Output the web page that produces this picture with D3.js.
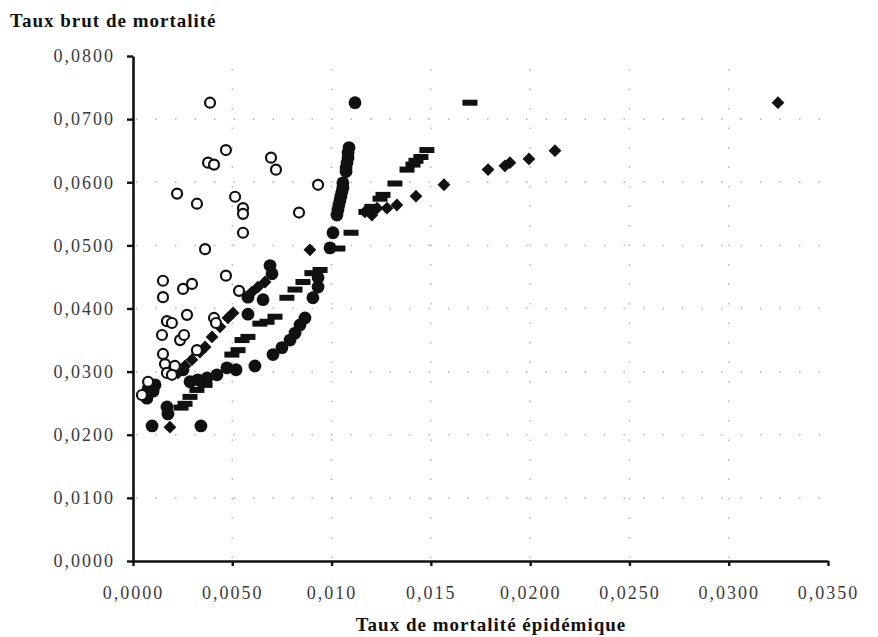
<!DOCTYPE html>
<html>
<head>
<meta charset="utf-8">
<script src="https://cdn.jsdelivr.net/npm/d3@7"></script>
<style>
  body { margin: 0; background: #fff; }
  text { font-family: "Liberation Serif", "Times New Roman", serif; }
</style>
</head>
<body>
<svg id="chart" width="878" height="637"></svg>
<script>
// tick values and their printed labels
var xTicks = [0, 0.005, 0.010, 0.015, 0.020, 0.025, 0.030, 0.035];
var xTickLabels = ['0,0000', '0,0050', '0,010', '0,015', '0,0200', '0,0250', '0,0300', '0,0350'];
var yTicks = [0, 0.01, 0.02, 0.03, 0.04, 0.05, 0.06, 0.07, 0.08];
var yTickLabels = ['0,0000', '0,0100', '0,0200', '0,0300', '0,0400', '0,0500', '0,0600', '0,0700', '0,0800'];

// series: [taux de mortalité épidémique, taux brut de mortalité]
var openCircles = [
  [0.00388, 0.0726], [0.00468, 0.0651], [0.00378, 0.0631], [0.00408, 0.0628], [0.00695, 0.0639],
  [0.00720, 0.0620], [0.00932, 0.0596], [0.00222, 0.0582], [0.00322, 0.0566], [0.00514, 0.0577],
  [0.00554, 0.0559], [0.00554, 0.0550], [0.00554, 0.0520], [0.00836, 0.0552], [0.00363, 0.0494],
  [0.00151, 0.0444], [0.00151, 0.0418], [0.00252, 0.0431], [0.00297, 0.0439], [0.00468, 0.0452],
  [0.00534, 0.0428], [0.00272, 0.0390], [0.00171, 0.0380], [0.00196, 0.0377], [0.00408, 0.0385],
  [0.00418, 0.0377], [0.00146, 0.0358], [0.00237, 0.0350], [0.00257, 0.0358], [0.00322, 0.0334],
  [0.00151, 0.0328], [0.00161, 0.0312], [0.00211, 0.0309], [0.00171, 0.0298], [0.00196, 0.0295],
  [0.00076, 0.0284], [0.00045, 0.0263]
];

var filledCircles = [
  [0.01118, 0.0726], [0.01088, 0.0655], [0.01083, 0.0647], [0.01083, 0.0639], [0.01078, 0.0631],
  [0.01073, 0.0623], [0.01073, 0.0617], [0.01057, 0.0599], [0.01057, 0.0591], [0.01052, 0.0585],
  [0.01047, 0.0578], [0.01042, 0.0571], [0.01037, 0.0564], [0.01032, 0.0556], [0.01027, 0.0548],
  [0.01007, 0.0520], [0.00992, 0.0496], [0.00932, 0.0449], [0.00932, 0.0434], [0.00906, 0.0417],
  [0.00866, 0.0385], [0.00841, 0.0374], [0.00816, 0.0361], [0.00791, 0.0350], [0.00750, 0.0338],
  [0.00705, 0.0327], [0.00614, 0.0309], [0.00519, 0.0303], [0.00473, 0.0306], [0.00423, 0.0295],
  [0.00373, 0.0290], [0.00327, 0.0287], [0.00287, 0.0284], [0.00252, 0.0303], [0.00111, 0.0279],
  [0.00076, 0.0273], [0.00101, 0.0269], [0.00070, 0.0258], [0.00171, 0.0244], [0.00176, 0.0233],
  [0.00096, 0.0214], [0.00342, 0.0214], [0.00690, 0.0468], [0.00700, 0.0455], [0.00655, 0.0414],
  [0.00579, 0.0418], [0.00579, 0.0391]
];

var dashes = [
  [0.01697, 0.0726], [0.01480, 0.0651], [0.01450, 0.0640], [0.01425, 0.0634], [0.01410, 0.0628],
  [0.01380, 0.0620], [0.01319, 0.0598], [0.01259, 0.0580], [0.01244, 0.0574], [0.01203, 0.0561],
  [0.01173, 0.0553], [0.01098, 0.0520], [0.01032, 0.0495], [0.00942, 0.0461], [0.00901, 0.0456],
  [0.00856, 0.0442], [0.00816, 0.0430], [0.00775, 0.0417], [0.00715, 0.0387], [0.00675, 0.0379],
  [0.00639, 0.0376], [0.00579, 0.0355], [0.00549, 0.0350], [0.00529, 0.0334], [0.00498, 0.0327],
  [0.00363, 0.0279], [0.00322, 0.0271], [0.00287, 0.0260], [0.00262, 0.0249], [0.00242, 0.0243]
];

var diamonds = [
  [0.03248, 0.0726], [0.02125, 0.0650], [0.01994, 0.0637], [0.01898, 0.0631], [0.01873, 0.0626],
  [0.01788, 0.0620], [0.01566, 0.0596], [0.01425, 0.0578], [0.01329, 0.0564], [0.01279, 0.0559],
  [0.01229, 0.0559], [0.01203, 0.0548], [0.01168, 0.0553], [0.00891, 0.0493], [0.00665, 0.0442],
  [0.00629, 0.0434], [0.00599, 0.0426], [0.00504, 0.0393], [0.00478, 0.0385], [0.00438, 0.0371],
  [0.00398, 0.0355], [0.00363, 0.0339], [0.00337, 0.0331], [0.00297, 0.0319], [0.00262, 0.0309],
  [0.00227, 0.0298], [0.00186, 0.0212]
];

var width = 878;
var height = 637;
var margin = { top: 56, right: 50, bottom: 76, left: 133 };
var ink = '#111';

var svg = d3.select('#chart');

var x = d3.scaleLinear()
  .domain([0, 0.035])
  .range([margin.left, width - margin.right]);

var y = d3.scaleLinear()
  .domain([0, 0.08])
  .range([height - margin.bottom, margin.top]);

// dotted grid
var grid = svg.append('g')
  .attr('stroke', '#b4b4b4')
  .attr('stroke-width', 1.5)
  .attr('stroke-dasharray', '1.5,18');

grid.selectAll('line.h')
  .data(yTicks.slice(1, -1))
  .enter().append('line')
  .attr('class', 'h')
  .attr('x1', x(0) + 3)
  .attr('x2', x(0.035))
  .attr('y1', function (d) { return y(d); })
  .attr('y2', function (d) { return y(d); });

grid.selectAll('line.v')
  .data(xTicks.slice(1, -1))
  .enter().append('line')
  .attr('class', 'v')
  .attr('x1', function (d) { return x(d); })
  .attr('x2', function (d) { return x(d); })
  .attr('y1', y(0) - 3)
  .attr('y2', y(0.08));

// axes
var xAxis = d3.axisBottom(x)
  .tickValues(xTicks)
  .tickFormat(function (d, i) { return xTickLabels[i]; })
  .tickSize(5)
  .tickSizeOuter(0)
  .tickPadding(14);

var yAxis = d3.axisLeft(y)
  .tickValues(yTicks)
  .tickFormat(function (d, i) { return yTickLabels[i]; })
  .tickSize(6)
  .tickSizeOuter(0)
  .tickPadding(12);

function styleAxis(g) {
  g.select('.domain').attr('stroke', ink).attr('stroke-width', 2.6);
  g.selectAll('.tick line').attr('stroke', ink).attr('stroke-width', 2.4);
  g.selectAll('.tick text')
    .attr('fill', '#3a3a3a')
    .style('font-size', '18px')
    .style('letter-spacing', '2px');
}

svg.append('g')
  .attr('transform', 'translate(0,' + y(0) + ')')
  .call(xAxis)
  .call(styleAxis)
  .selectAll('.tick text')
  .attr('dy', '1.05em');

svg.append('g')
  .attr('transform', 'translate(' + x(0) + ',0)')
  .call(yAxis)
  .call(styleAxis);

// axis titles
svg.append('text')
  .attr('x', 10)
  .attr('y', 27)
  .attr('fill', ink)
  .style('font-size', '19px')
  .style('font-weight', 'bold')
  .style('letter-spacing', '1px')
  .text('Taux brut de mortalité');

svg.append('text')
  .attr('x', 491)
  .attr('y', 631)
  .attr('text-anchor', 'middle')
  .attr('fill', ink)
  .style('font-size', '19px')
  .style('font-weight', 'bold')
  .style('letter-spacing', '1px')
  .text('Taux de mortalité épidémique');

// markers
var marks = svg.append('g');

marks.selectAll('rect.dash')
  .data(dashes)
  .enter().append('rect')
  .attr('class', 'dash')
  .attr('x', function (d) { return x(d[0]) - 7.5; })
  .attr('y', function (d) { return y(d[1]) - 3; })
  .attr('width', 15)
  .attr('height', 6)
  .attr('fill', ink);

marks.selectAll('path.diamond')
  .data(diamonds)
  .enter().append('path')
  .attr('class', 'diamond')
  .attr('d', d3.symbol().type(d3.symbolSquare).size(82))
  .attr('transform', function (d) {
    return 'translate(' + x(d[0]) + ',' + y(d[1]) + ') rotate(45)';
  })
  .attr('fill', ink);

marks.selectAll('circle.filled')
  .data(filledCircles)
  .enter().append('circle')
  .attr('class', 'filled')
  .attr('cx', function (d) { return x(d[0]); })
  .attr('cy', function (d) { return y(d[1]); })
  .attr('r', 6.4)
  .attr('fill', ink);

marks.selectAll('circle.open')
  .data(openCircles)
  .enter().append('circle')
  .attr('class', 'open')
  .attr('cx', function (d) { return x(d[0]); })
  .attr('cy', function (d) { return y(d[1]); })
  .attr('r', 5)
  .attr('fill', '#fff')
  .attr('stroke', ink)
  .attr('stroke-width', 2.2);
</script>
</body>
</html>
